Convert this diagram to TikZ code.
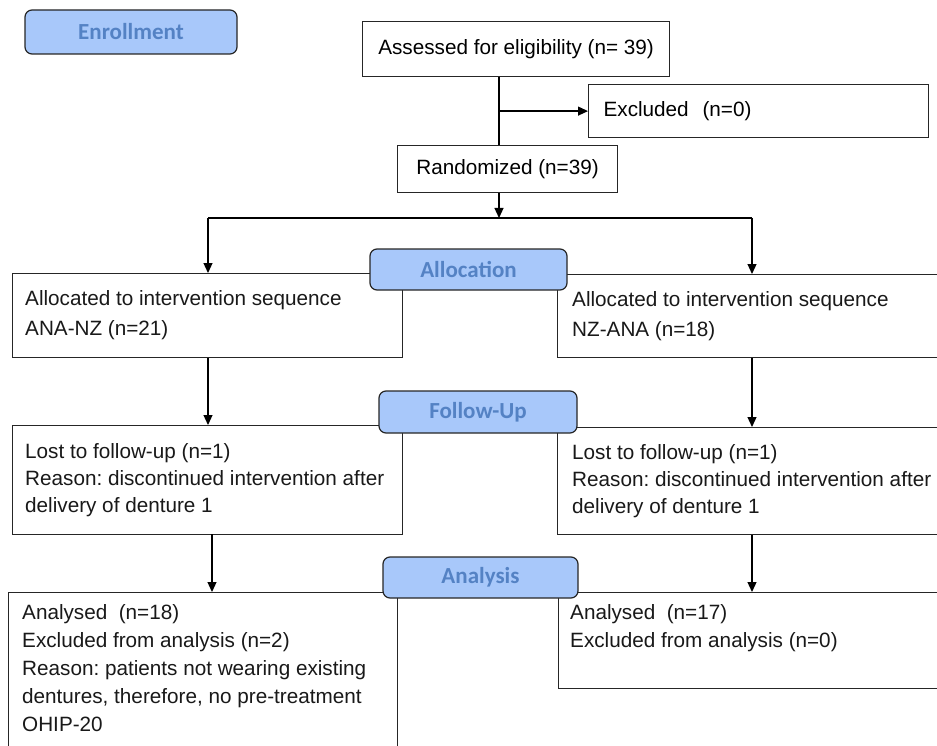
\documentclass[tikz,border=0pt]{standalone}
\usepackage{fontspec}
\setmainfont{Liberation Sans}
\newfontfamily\stagefont{Carlito}
\usetikzlibrary{arrows.meta,positioning}
\frenchspacing
\definecolor{stagefill}{RGB}{168,200,250}
\definecolor{stagetext}{RGB}{84,130,196}
\tikzset{
  stage/.style={draw=black!85, fill=stagefill, rounded corners=7pt, line width=1.2pt,
    text=stagetext, font=\stagefont\bfseries\fontsize{23}{26}\selectfont, inner sep=0pt},
  flowbox/.style={draw=black!85, line width=1.2pt, fill=white, anchor=north west,
    inner xsep=15pt, inner ysep=0pt, font=\fontsize{20.7}{27}\selectfont},
  boxtext/.style={align=left, inner sep=0pt, text=black!90, font=\fontsize{20.7}{27}\selectfont},
  flow/.style={line width=1.2pt, -{Triangle[length=10pt,width=9pt]}},
  link/.style={line width=1.2pt},
}
\begin{document}
\begin{tikzpicture}[x=1pt,y=1pt,yscale=-1,xscale=1]
  \useasboundingbox (0,0) rectangle (937,746);
  \clip (0,0) rectangle (937,746);

  % Enrollment
  \node[flowbox, align=center, minimum width=307pt, minimum height=55pt] (assess) at (362,21) {Assessed for eligibility (n= 39)};
  \node[flowbox, align=left, text width=310pt, minimum height=53pt] (excl) at (588,84) {Excluded\ \ (n=0)};
  \node[flowbox, align=center, minimum width=220pt, minimum height=47pt] (rand) at (397,145) {Randomized (n=39)};

  % Allocation
  \node[flowbox, minimum width=390pt, minimum height=84pt] (alloca) at (12,273) {};
  \node[boxtext, anchor=west, xshift=13pt] (allocatxt) at (alloca.west) {Allocated to intervention sequence\\[3pt]ANA-NZ (n=21)};
  \node[flowbox, minimum width=400pt, minimum height=83pt] (allocb) at (557,274) {};
  \node[boxtext, anchor=west, xshift=15pt] (allocbtxt) at (allocb.west) {Allocated to intervention sequence\\[3pt]NZ-ANA (n=18)};

  % Follow-up
  \node[flowbox, minimum width=390pt, minimum height=109pt] (followa) at (12,425) {};
  \node[boxtext, anchor=west, xshift=13pt] (followatxt) at (followa.west) {Lost to follow-up (n=1)\\Reason: discontinued intervention after\\delivery of denture 1};
  \node[flowbox, minimum width=400pt, minimum height=107pt] (followb) at (557,427) {};
  \node[boxtext, anchor=west, xshift=15pt] (followbtxt) at (followb.west) {Lost to follow-up (n=1)\\Reason: discontinued intervention after\\delivery of denture 1};

  % Analysis
  \node[flowbox, minimum width=389pt, minimum height=250pt] (analysa) at (8,592) {};
  \node[boxtext, anchor=north west, xshift=14pt, inner ysep=12pt] (analysatxt) at (analysa.north west) {Analysed\ \ (n=18)\\[1pt]Excluded from analysis (n=2)\\[1pt]Reason: patients not wearing existing\\[1pt]dentures, therefore, no pre-treatment\\[1pt]OHIP-20};
  \node[flowbox, minimum width=400pt, minimum height=96pt] (analysb) at (558,592) {};
  \node[boxtext, anchor=north west, xshift=12pt, inner ysep=12pt] (analysbtxt) at (analysb.north west) {Analysed\ \ (n=17)\\[1pt]Excluded from analysis (n=0)};

  % connectors
  \coordinate (split) at (499,218);
  \coordinate (spla) at (208,218);
  \coordinate (splb) at (752,218);
  \coordinate (dropa) at (212,534);
  \draw[link] (split |- assess.south) -- (split |- rand.north);
  \draw[flow] (split |- excl.west) -- (excl.west);
  \draw[flow] (split |- rand.south) -- (split);
  \draw[link] (spla) -- (splb);
  \draw[flow] (spla) -- (spla |- alloca.north);
  \draw[flow] (splb) -- (splb |- allocb.north);
  \draw[flow] (spla |- alloca.south) -- (spla |- followa.north);
  \draw[flow] (splb |- allocb.south) -- (splb |- followb.north);
  \draw[flow] (dropa) -- (dropa |- analysa.north);
  \draw[flow] (splb |- followb.south) -- (splb |- analysb.north);

  % stage labels
  \node[stage, minimum width=212pt, minimum height=44pt] (enrol) at (131,32) {Enrollment};
  \node[stage, minimum width=197pt, minimum height=41pt] (allocl) at (468.5,269.5) {Allocation};
  \node[stage, minimum width=198pt, minimum height=42pt] (followl) at (478,412) {Follow-Up};
  \node[stage, minimum width=195pt, minimum height=41pt] (analysl) at (480.5,577.5) {Analysis};
\end{tikzpicture}
\end{document}
